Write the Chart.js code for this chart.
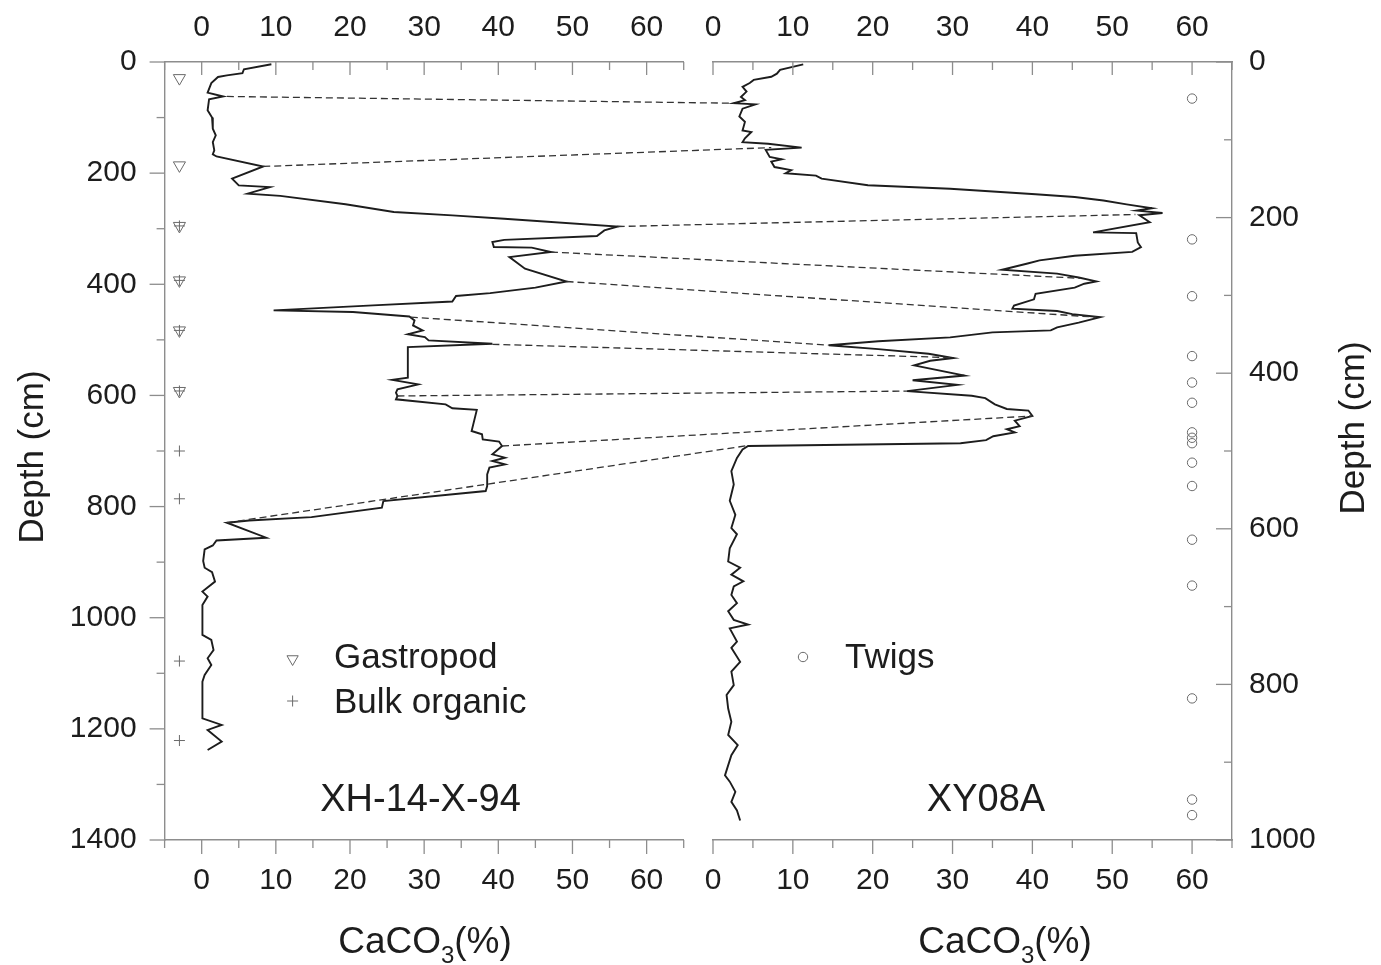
<!DOCTYPE html>
<html>
<head>
<meta charset="utf-8">
<title>CaCO3 profiles XH-14-X-94 / XY08A</title>
<script src="https://cdn.jsdelivr.net/npm/chart.js@4.4.4/dist/chart.umd.min.js"></script>
<style>
    html, body { margin: 0; background: #fff; }
    #wrap { position: relative; width: 1381px; height: 965px; }
    #wrap canvas { position: absolute; left: 0; top: 0; }
</style>
</head>
<body>
<div id="wrap">
    <canvas id="leftCore" width="1381" height="965"></canvas>
    <canvas id="rightCore" width="1381" height="965"></canvas>
</div>
<script>
// Two CaCO3-depth profiles side by side, one Chart.js instance per core. Both canvases
// share the same origin so the tie lines between cores can use both charts' scales.

// --- XH-14-X-94 (left core) ---
const xhDepth = [
    4, 13, 20, 24, 27, 38, 55, 62, 67, 87,
    100, 120, 132, 144, 159, 166, 170, 188, 210, 222,
    225, 237, 241, 256, 270, 276, 282, 296, 303, 313,
    320, 324, 333, 334, 342, 351, 372, 395, 406, 416,
    421, 431, 438, 447, 450, 458, 465, 474, 483, 490,
    495, 501, 507, 513, 568, 572, 580, 589, 595, 601,
    607, 616, 623, 626, 664, 670, 679, 683, 691, 706,
    712, 718, 724, 730, 742, 763, 772, 790, 802, 819,
    825, 829, 856, 861, 870, 877, 898, 910, 918, 935,
    953, 962, 977, 1031, 1040, 1058, 1073, 1085, 1103, 1115,
    1181, 1193, 1202, 1223, 1238,
];
const xhCaco3 = [
    9.4, 5.7, 5.5, 3.4, 2.2, 1.3, 0.8, 2.9, 1.0, 0.8,
    1.4, 1.5, 1.9, 1.5, 1.7, 1.5, 2.0, 8.3, 4.1, 5.0,
    9.2, 6.2, 10.6, 19.4, 25.9, 33.8, 40.8, 56.1, 54.3, 53.3,
    40.8, 39.2, 39.4, 44.5, 47.1, 41.5, 43.6, 49.2, 45.0, 38.9,
    34.3, 33.8, 23.1, 9.7, 20.4, 28.0, 28.7, 28.5, 29.8, 27.8,
    30.1, 30.6, 39.2, 27.8, 27.8, 25.7, 29.2, 26.4, 26.2, 26.4,
    26.2, 32.9, 33.8, 37.1, 36.4, 37.8, 37.9, 40.1, 40.5, 39.2,
    40.9, 39.2, 40.9, 38.8, 38.5, 38.5, 38.3, 24.5, 24.3, 14.8,
    6.4, 3.4, 8.7, 2.0, 1.5, 0.4, 0.2, 0.4, 1.4, 1.8,
    0.1, 0.8, 0.1, 0.1, 1.3, 1.6, 0.8, 1.3, 0.4, 0.1,
    0.1, 2.7, 0.8, 2.7, 0.8,
];
const datingX = -3;
const gastropodDepth = [29, 186, 295, 393, 483, 592];
const bulkOrganicDepth = [295, 393, 483, 592, 700, 786, 1078, 1221];

// --- XY08A (right core) ---
const xyDepth = [
    3, 10, 15, 19, 23, 27, 32, 38, 45, 49,
    53, 54.5, 60, 70, 77, 88, 90, 98, 103, 105,
    110, 113, 122, 125, 128, 135, 139, 143, 146, 150,
    158.5, 163, 170, 173.5, 178, 183, 188, 191, 194, 197,
    206, 219, 220, 232, 238, 244, 249, 255, 259, 267,
    272, 277, 282, 285, 290, 298, 305, 313, 317, 320,
    324, 328, 335, 341, 345, 347.5, 354, 359, 364, 369,
    375, 380.5, 384, 390, 403, 409, 415, 423, 429, 432,
    440, 446, 448, 455, 461, 468, 472, 476, 481, 486,
    490, 493.5, 498, 509, 526, 543, 564, 582, 599, 607,
    625, 642, 650, 659, 667.5, 674, 685, 695.5, 706, 717,
    723, 728, 745, 753, 771, 783.5, 801, 813.5, 831, 848,
    865, 878, 891, 917, 925, 938, 951, 962, 975,
];
const xyCaco3 = [
    11.3, 8.4, 8.0, 7.3, 5.1, 4.6, 3.7, 4.2, 3.5, 4.0,
    2.6, 5.3, 3.7, 3.3, 4.0, 3.7, 4.8, 4.0, 3.7, 6.9,
    11.1, 6.6, 7.1, 8.6, 7.3, 7.7, 9.8, 9.1, 12.9, 13.6,
    19.4, 29.7, 40.4, 45.3, 48.9, 51.8, 55.0, 53.1, 56.3, 53.4,
    54.7, 47.6, 53.0, 53.2, 53.6, 52.5, 45.3, 40.9, 39.4, 36.2,
    43.1, 45.8, 48.0, 46.5, 45.3, 40.4, 40.2, 37.7, 37.5, 43.1,
    45.0, 48.5, 45.8, 43.1, 42.3, 35.0, 29.7, 20.7, 14.5, 20.7,
    27.0, 30.1, 27.2, 25.2, 31.5, 25.0, 30.6, 24.3, 32.4, 34.1,
    35.3, 36.8, 39.5, 40.0, 37.8, 38.4, 36.8, 37.8, 35.1, 34.2,
    31.0, 4.4, 3.7, 3.0, 2.3, 2.6, 2.1, 2.8, 2.3, 3.0,
    2.1, 1.9, 3.4, 2.3, 3.8, 2.6, 2.3, 3.0, 1.9, 2.6,
    4.4, 2.1, 3.0, 2.3, 3.4, 2.3, 2.6, 1.7, 1.9, 2.3,
    1.9, 3.1, 2.3, 1.5, 2.1, 2.8, 2.3, 3.0, 3.4,
];
const twigsX = 60;
const twigsDepth = [47, 228, 301, 378, 412, 438, 476, 483, 490, 515, 545, 614, 673, 818, 948, 968];

// --- tie points (left core -> right core) ---
const tieLeftX = [3.4, 8.3, 56.1, 47.1, 49.2, 28.2, 39.2, 26.4, 40.5, 3.4];
const tieLeftDepth = [62, 188, 296, 342, 395, 459, 508, 601, 691, 829];
const tieRightX = [2.6, 7.3, 52.9, 46.0, 48.0, 14.5, 30.1, 24.3, 40.0, 4.4];
const tieRightDepth = [53, 110, 196, 278, 328, 364, 380, 423, 455, 493];

// --- axes ---
const caco3Range = { left: [-5, 65], right: [0, 65] };
const depthMax = { left: 1400, right: 1000 };

const FONT = '"Liberation Sans", Arial, Helvetica, sans-serif';
const INK = '#1d1d1d';
const AXIS = '#8d8d8d';
const MARK = '#6a6a6a';

Chart.defaults.font.family = FONT;
Chart.defaults.color = INK;

const toPoints = (xs, ys) => xs.map((v, i) => ({ x: v, y: ys[i] }));
const atX = (x, ys) => ys.map((d) => ({ x, y: d }));

// Ticks are drawn here so the top/right ones can point inwards and majors can be longer.
function tickMarks(spec) {
    return {
        id: 'tickMarks',
        afterDraw(chart) {
            const { ctx } = chart;
            ctx.save();
            ctx.strokeStyle = AXIS;
            ctx.lineWidth = 1.3;
            for (const id of Object.keys(spec)) {
                const s = chart.scales[id];
                const sp = spec[id];
                for (const t of s.ticks) {
                    const len = t.value % sp.major === 0 ? sp.long : sp.short;
                    const p = s.getPixelForValue(t.value);
                    ctx.beginPath();
                    if (s.isHorizontal()) {
                        const y0 = s.position === 'top' ? s.bottom : s.top;
                        ctx.moveTo(p, y0);
                        ctx.lineTo(p, y0 + len * sp.dir);
                    } else {
                        const x0 = s.position === 'left' ? s.right : s.left;
                        ctx.moveTo(x0, p);
                        ctx.lineTo(x0 + len * sp.dir, p);
                    }
                    ctx.stroke();
                }
            }
            ctx.restore();
        },
    };
}

function caco3Title(ctx, cx, baseline) {
    const big = `37px ${FONT}`, small = `24px ${FONT}`;
    ctx.font = big;
    const w1 = ctx.measureText('CaCO').width, w3 = ctx.measureText('(%)').width;
    ctx.font = small;
    const w2 = ctx.measureText('3').width;
    let x = cx - (w1 + w2 + w3) / 2;
    ctx.textAlign = 'left';
    ctx.textBaseline = 'alphabetic';
    ctx.font = big; ctx.fillText('CaCO', x, baseline); x += w1;
    ctx.font = small; ctx.fillText('3', x, baseline + 10); x += w2;
    ctx.font = big; ctx.fillText('(%)', x, baseline);
}

function depthTitle(ctx, cx, cy) {
    ctx.save();
    ctx.font = `35px ${FONT}`;
    ctx.translate(cx + 12.5, cy);
    ctx.rotate(-Math.PI / 2);
    ctx.textAlign = 'center';
    ctx.textBaseline = 'alphabetic';
    ctx.fillText('Depth (cm)', 0, 0);
    ctx.restore();
}

function marker(ctx, style, x, y, radius, rotation = 0) {
    ctx.fillStyle = 'rgba(0,0,0,0)';
    ctx.lineWidth = 1;
    Chart.helpers.drawPoint(ctx, { pointStyle: style, radius, rotation, borderWidth: 1 }, x, y);
}

// Titles, legend entries and core names, placed as in the figure.
function captions(items) {
    return {
        id: 'captions',
        afterDraw(chart) {
            const { ctx } = chart;
            ctx.save();
            ctx.fillStyle = INK;
            ctx.strokeStyle = MARK;
            items(ctx);
            ctx.restore();
        },
    };
}

function scaleSet(range, maxDepth, yPos, yWidth) {
    const xTicks = (pad) => ({
        stepSize: 5, autoSkip: false, maxRotation: 0, padding: pad,
        font: { size: 30 }, color: INK,
        callback: (v) => (v % 10 === 0 ? v : ''),
    });
    const plain = { drawOnChartArea: false, drawTicks: false };
    const border = { color: AXIS, width: 1.4 };
    return {
        x: { type: 'linear', position: 'bottom', min: range[0], max: range[1], ticks: xTicks(23), grid: plain, border, afterFit(s) { s.height = 125; } },
        x2: { type: 'linear', position: 'top', min: range[0], max: range[1], ticks: xTicks(16), grid: plain, border, afterFit(s) { s.height = 62; } },
        y: {
            type: 'linear', position: yPos, reverse: true, min: 0, max: maxDepth,
            ticks: { stepSize: 100, autoSkip: false, padding: yPos === 'left' ? 28 : 17, font: { size: 30 }, color: INK, callback: (v) => (v % 200 === 0 ? v : '') },
            grid: plain, border, afterFit(s) { s.width = yWidth; },
        },
    };
}

const common = {
    responsive: false,
    animation: false,
    events: [],
    plugins: { legend: { display: false }, tooltip: { enabled: false } },
};

const markerStyle = { pointBorderColor: MARK, pointBorderWidth: 1, pointBackgroundColor: 'rgba(0,0,0,0)', showLine: false };

const leftChart = new Chart(document.getElementById('leftCore'), {
    type: 'scatter',
    data: {
        datasets: [
            { label: 'XH-14-X-94', data: toPoints(xhCaco3, xhDepth), showLine: true, borderColor: INK, borderWidth: 1.9, pointRadius: 0, tension: 0 },
            { label: 'Gastropod', data: atX(datingX, gastropodDepth), pointStyle: 'triangle', pointRotation: 180, pointRadius: 7, ...markerStyle },
            { label: 'Bulk organic', data: atX(datingX, bulkOrganicDepth), pointStyle: 'cross', pointRadius: 5.5, ...markerStyle },
        ],
    },
    options: {
        ...common,
        layout: { padding: { left: 0, right: 697.3, top: 0, bottom: 0 } },
        scales: scaleSet(caco3Range.left, depthMax.left, 'left', 164.6),
    },
    plugins: [
        tickMarks({
            x: { major: 10, long: 14, short: 8, dir: 1 },
            x2: { major: 10, long: 13, short: 8, dir: 1 },
            y: { major: 200, long: 15, short: 8, dir: -1 },
        }),
        captions((ctx) => {
            depthTitle(ctx, 30, 457);
            caco3Title(ctx, 425, 953);
            marker(ctx, 'triangle', 292.6, 659, 6.5, 180);
            marker(ctx, 'cross', 292.6, 701, 5.5);
            ctx.fillStyle = INK;
            ctx.font = `35px ${FONT}`;
            ctx.textAlign = 'left';
            ctx.fillText('Gastropod', 334, 668);
            ctx.fillText('Bulk organic', 334, 713);
            ctx.font = `38px ${FONT}`;
            ctx.textAlign = 'center';
            ctx.fillText('XH-14-X-94', 420.5, 810.6);
        }),
    ],
});

// Dashed correlation lines, from a level in XH-14-X-94 to the matching level in XY08A.
const tieLines = {
    id: 'tieLines',
    afterDatasetsDraw(chart) {
        const L = leftChart.scales, R = chart.scales;
        const { ctx } = chart;
        ctx.save();
        ctx.strokeStyle = '#333';
        ctx.lineWidth = 1.3;
        ctx.setLineDash([7, 4]);
        tieLeftX.forEach((lx, i) => {
            ctx.beginPath();
            ctx.moveTo(L.x.getPixelForValue(lx), L.y.getPixelForValue(tieLeftDepth[i]));
            ctx.lineTo(R.x.getPixelForValue(tieRightX[i]), R.y.getPixelForValue(tieRightDepth[i]));
            ctx.stroke();
        });
        ctx.restore();
    },
};

const rightChart = new Chart(document.getElementById('rightCore'), {
    type: 'scatter',
    data: {
        datasets: [
            { label: 'XY08A', data: toPoints(xyCaco3, xyDepth), showLine: true, borderColor: INK, borderWidth: 1.9, pointRadius: 0, tension: 0 },
            { label: 'Twigs', data: atX(twigsX, twigsDepth), pointStyle: 'circle', pointRadius: 4.7, ...markerStyle },
        ],
    },
    options: {
        ...common,
        layout: { padding: { left: 713, right: 0, top: 0, bottom: 0 } },
        scales: scaleSet(caco3Range.right, depthMax.right, 'right', 149),
    },
    plugins: [
        tieLines,
        tickMarks({
            x: { major: 10, long: 14, short: 8, dir: 1 },
            x2: { major: 10, long: 13, short: 8, dir: 1 },
            y: { major: 200, long: 16, short: 8, dir: -1 },
        }),
        captions((ctx) => {
            depthTitle(ctx, 1351, 428);
            caco3Title(ctx, 1005, 953);
            marker(ctx, 'circle', 803, 657, 4.7);
            ctx.fillStyle = INK;
            ctx.font = `35px ${FONT}`;
            ctx.textAlign = 'left';
            ctx.fillText('Twigs', 845, 668);
            ctx.font = `38px ${FONT}`;
            ctx.textAlign = 'center';
            ctx.fillText('XY08A', 986, 810.6);
        }),
    ],
});
</script>
</body>
</html>
